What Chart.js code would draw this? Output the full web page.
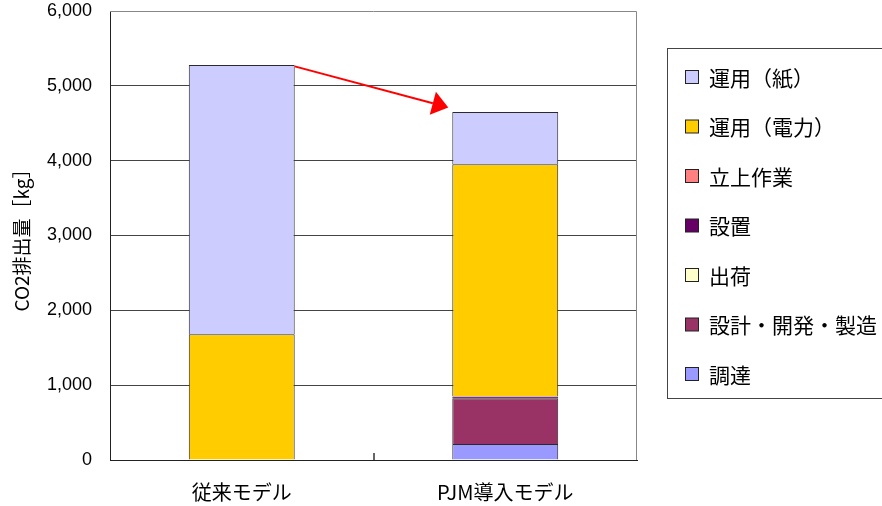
<!DOCTYPE html>
<html>
<head>
<meta charset="utf-8">
<script src="https://cdn.jsdelivr.net/npm/chart.js@4.4.0/dist/chart.umd.min.js"></script>
<style>
  html, body { margin: 0; padding: 0; background: #fff; }
  #wrap { width: 882px; height: 506px; }
</style>
</head>
<body>
<div id="wrap"><canvas id="myChart" width="882" height="506"></canvas></div>
<script>
// モデル別 CO2 排出量（積み上げ、単位 kg）
var categories = ["従来モデル", "PJM導入モデル"];
var chotatsu = [0, 215];        // 調達
var sekkeiSeizo = [0, 610];     // 設計・開発・製造
var shukka = [0, 3];            // 出荷
var secchi = [0, 22];           // 設置
var tachiage = [0, 2];          // 立上作業
var unyoDenryoku = [1680, 3100]; // 運用(電力)
var unyoKami = [3600, 700];     // 運用(紙)
var yTicks = [0, 1000, 2000, 3000, 4000, 5000, 6000];

var jpFont = "'Noto Sans CJK JP', 'Noto Sans', sans-serif";

function makeSet(label, data, color) {
  return {
    label: label,
    data: data,
    backgroundColor: color,
    borderColor: "#2a2a2a",
    borderWidth: 1,
    categoryPercentage: 1.0,
    barPercentage: 0.402,
  };
}

// 凡例（枠付き、積み上げの上から順に表示）
var boxLegend = {
  id: "boxLegend",
  afterDraw: function (chart) {
    var ctx = chart.ctx;
    ctx.save();
    ctx.strokeStyle = "#444";
    ctx.lineWidth = 1;
    ctx.strokeRect(667.5, 48.5, 240, 350);
    var sets = chart.data.datasets.slice().reverse();
    ctx.font = "21px " + jpFont;
    ctx.textBaseline = "middle";
    ctx.textAlign = "left";
    sets.forEach(function (ds, i) {
      var cy = 77 + i * 49.5;
      ctx.fillStyle = ds.backgroundColor;
      ctx.fillRect(685.5, cy - 6.5, 13, 13);
      ctx.strokeStyle = "#222";
      ctx.strokeRect(685.5, cy - 6.5, 13, 13);
      ctx.fillStyle = "#000";
      ctx.fillText(ds.label, 709, cy + 1);
    });
    ctx.restore();
  },
};

// プロット枠・区切り目盛・矢印
var decorations = {
  id: "decorations",
  beforeDatasetsDraw: function (chart) {
    var a = chart.chartArea;
    var ctx = chart.ctx;
    ctx.save();
    ctx.strokeStyle = "#888";
    ctx.lineWidth = 1;
    ctx.beginPath();
    ctx.moveTo(a.left, a.top + 0.5);
    ctx.lineTo(a.right - 0.5, a.top + 0.5);
    ctx.lineTo(a.right - 0.5, a.bottom);
    ctx.stroke();
    var xs = chart.scales.x;
    var mid = Math.round((xs.getPixelForValue(0) + xs.getPixelForValue(1)) / 2);
    ctx.strokeStyle = "#666";
    ctx.lineWidth = 2;
    ctx.beginPath();
    ctx.moveTo(mid, a.bottom - 7);
    ctx.lineTo(mid, a.bottom);
    ctx.stroke();
    ctx.restore();
  },
  afterDatasetsDraw: function (chart) {
    var meta = chart.getDatasetMeta(chart.data.datasets.length - 1);
    var e0 = meta.data[0];
    var e1 = meta.data[1];
    var x0 = e0.x + e0.width / 2, y0 = e0.y + 1.5;
    var x1 = e1.x - e1.width / 2 - 4, y1 = e1.y - 4.5;
    var ang = Math.atan2(y1 - y0, x1 - x0);
    var headLen = 16, headHalf = 12;
    var bx = x1 - headLen * Math.cos(ang), by = y1 - headLen * Math.sin(ang);
    var ctx = chart.ctx;
    ctx.save();
    ctx.strokeStyle = "#ff0000";
    ctx.fillStyle = "#ff0000";
    ctx.lineWidth = 2;
    ctx.beginPath();
    ctx.moveTo(x0, y0);
    ctx.lineTo(bx, by);
    ctx.stroke();
    ctx.beginPath();
    ctx.moveTo(x1, y1);
    ctx.lineTo(bx + headHalf * Math.sin(ang), by - headHalf * Math.cos(ang));
    ctx.lineTo(bx - headHalf * Math.sin(ang), by + headHalf * Math.cos(ang));
    ctx.closePath();
    ctx.fill();
    ctx.restore();
  },
};

var ctx = document.getElementById("myChart").getContext("2d");
var chartInstance = new Chart(ctx, {
  type: "bar",
  data: {
    labels: categories,
    datasets: [
      makeSet("調達", chotatsu, "#9999ff"),
      makeSet("設計・開発・製造", sekkeiSeizo, "#993366"),
      makeSet("出荷", shukka, "#ffffcc"),
      makeSet("設置", secchi, "#660066"),
      makeSet("立上作業", tachiage, "#ff8080"),
      makeSet("運用（電力）", unyoDenryoku, "#ffcc00"),
      makeSet("運用（紙）", unyoKami, "#ccccff"),
    ],
  },
  options: {
    responsive: false,
    animation: false,
    layout: { padding: { top: 11, right: 245, bottom: 0, left: 0 } },
    plugins: {
      legend: { display: false },
      tooltip: { enabled: false },
    },
    scales: {
      x: {
        stacked: true,
        grid: { display: false, drawTicks: false },
        border: { color: "#222", width: 1 },
        ticks: {
          color: "#000",
          padding: 20,
          font: { family: jpFont, size: 20 },
        },
        afterFit: function (scale) {
          scale.height = 46;
          scale.paddingLeft = 0;
          scale.paddingRight = 0;
        },
      },
      y: {
        stacked: true,
        min: 0,
        max: 6000,
        afterBuildTicks: function (scale) {
          scale.ticks = yTicks.map(function (v) { return { value: v }; });
        },
        grid: {
          drawTicks: false,
          color: function (c) { return c.tick.value === 6000 ? "rgba(0,0,0,0)" : "#444"; },
        },
        border: { color: "#222", width: 1 },
        ticks: {
          color: "#000",
          padding: 18,
          font: { family: "'Liberation Sans', Arial, sans-serif", size: 18 },
          callback: function (v) { return v.toLocaleString("en-US"); },
        },
        title: {
          display: true,
          text: "CO2排出量［kg］",
          color: "#000",
          padding: { top: 10, bottom: 0 },
          font: { family: jpFont, size: 19 },
        },
        afterFit: function (scale) {
          scale.width = 110;
          scale.paddingTop = 0;
          scale.paddingBottom = 0;
        },
      },
    },
  },
  plugins: [decorations, boxLegend],
});
</script>
</body>
</html>
